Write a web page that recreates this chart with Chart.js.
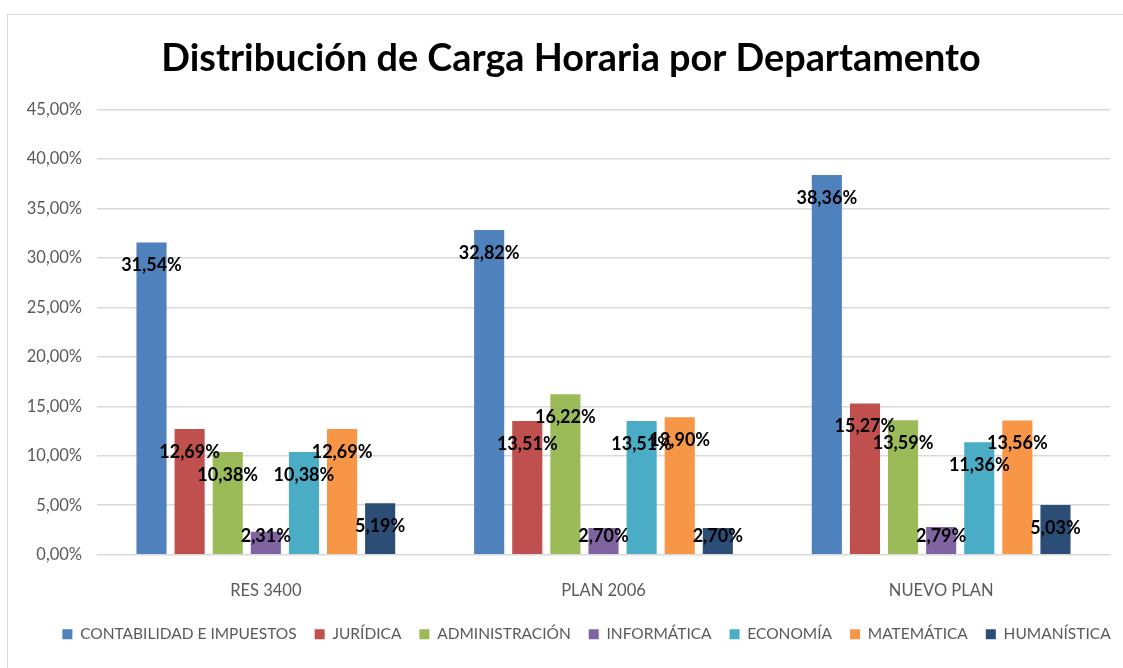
<!DOCTYPE html>
<html>
<head>
<meta charset="utf-8">
<script src="https://cdn.jsdelivr.net/npm/chart.js@4"></script>
<style>
    html, body { margin: 0; padding: 0; background: #fff; }
    #wrap { position: relative; width: 1123px; height: 668px; }
    #frame { position: absolute; left: 7px; top: 14px; width: 1130px; height: 670px; border: 1px solid #d9d9d9; box-sizing: border-box; }
    canvas { position: absolute; left: 0; top: 0; }
</style>
</head>
<body>
<div id="wrap">
    <div id="frame"></div>
    <canvas id="chart" width="1123" height="668"></canvas>
</div>
<script>
// categorias y series
const categories = ['RES 3400', 'PLAN 2006', 'NUEVO PLAN'];
const seriesNames = ['CONTABILIDAD E IMPUESTOS', 'JURÍDICA', 'ADMINISTRACIÓN', 'INFORMÁTICA', 'ECONOMÍA', 'MATEMÁTICA', 'HUMANÍSTICA'];
const contabilidad = [31.54, 32.82, 38.36];
const juridica = [12.69, 13.51, 15.27];
const administracion = [10.38, 16.22, 13.59];
const informatica = [2.31, 2.70, 2.79];
const economia = [10.38, 13.51, 11.36];
const matematica = [12.69, 13.90, 13.56];
const humanistica = [5.19, 2.70, 5.03];
const seriesColors = ['#4F81BD', '#C0504D', '#9BBB59', '#8064A2', '#4BACC6', '#F79646', '#2C4D75'];
const yMax = 45;
const yStep = 5;
const titleText = 'Distribución de Carga Horaria por Departamento';

const FONT = 'Lato, "Open Sans", sans-serif';
const TITLE_SIZE = 37.8;
const TITLE_PAD_TOP = 16;

function pct(v) {
    return v.toFixed(2).replace('.', ',') + '%';
}

// etiquetas de datos en el extremo interior de la barra
const barLabels = {
    id: 'barLabels',
    afterDatasetsDraw(chart) {
        const ctx = chart.ctx;
        ctx.save();
        ctx.font = 'bold 18px ' + FONT;
        ctx.fillStyle = '#000';
        ctx.textAlign = 'center';
        ctx.textBaseline = 'middle';
        chart.data.datasets.forEach((ds, i) => {
            chart.getDatasetMeta(i).data.forEach((bar, j) => {
                const y = Math.min(bar.y + 23, bar.base - 18);
                ctx.fillText(pct(ds.data[j]), bar.x, y);
            });
        });
        ctx.restore();
    }
};

// titulo centrado como en el original (el del plugin solo reserva espacio)
const centeredTitle = {
    id: 'centeredTitle',
    afterLayout(chart) {
        // la leyenda del original esta algo desplazada a la derecha
        chart.legend.left += 28;
        chart.legend.right += 28;
    },
    afterDraw(chart) {
        const tb = chart.titleBlock;
        const ctx = chart.ctx;
        ctx.save();
        ctx.font = 'bold ' + TITLE_SIZE + 'px ' + FONT;
        ctx.fillStyle = '#000';
        ctx.textAlign = 'center';
        ctx.textBaseline = 'middle';
        ctx.fillText(titleText, 571, tb.top + TITLE_PAD_TOP + TITLE_SIZE * 0.6);
        ctx.restore();
    }
};

const allSeries = [contabilidad, juridica, administracion, informatica, economia, matematica, humanistica];

new Chart(document.getElementById('chart'), {
    type: 'bar',
    data: {
        labels: categories,
        datasets: allSeries.map((d, i) => ({
            label: seriesNames[i],
            data: d,
            backgroundColor: seriesColors[i],
            borderWidth: 0,
            categoryPercentage: 0.79,
            barPercentage: 0.79
        }))
    },
    options: {
        responsive: false,
        animation: false,
        layout: { padding: { left: 7, right: 13, top: 20, bottom: 16 } },
        plugins: {
            title: {
                display: true,
                text: titleText,
                color: 'rgba(0,0,0,0)',
                font: { family: FONT, size: TITLE_SIZE, weight: 'bold' },
                padding: { top: TITLE_PAD_TOP, bottom: 28 }
            },
            legend: {
                position: 'bottom',
                labels: {
                    color: '#595959',
                    font: { family: FONT, size: 15.5 },
                    boxWidth: 10,
                    boxHeight: 10,
                    padding: 18
                }
            },
            tooltip: { enabled: false }
        },
        scales: {
            x: {
                grid: { display: false, drawTicks: false },
                border: { color: '#d9d9d9' },
                ticks: { color: '#595959', font: { family: FONT, size: 16.5 }, padding: 26 },
                afterFit: s => { s.height -= 18; }
            },
            y: {
                min: 0,
                max: yMax,
                ticks: {
                    stepSize: yStep,
                    color: '#595959',
                    font: { family: FONT, size: 16.5 },
                    padding: 15,
                    callback: v => pct(v)
                },
                grid: { color: '#d9d9d9', lineWidth: 1.5, drawTicks: false },
                border: { display: false },
                afterFit: s => { s.width = 90; }
            }
        }
    },
    plugins: [barLabels, centeredTitle]
});
</script>
</body>
</html>
